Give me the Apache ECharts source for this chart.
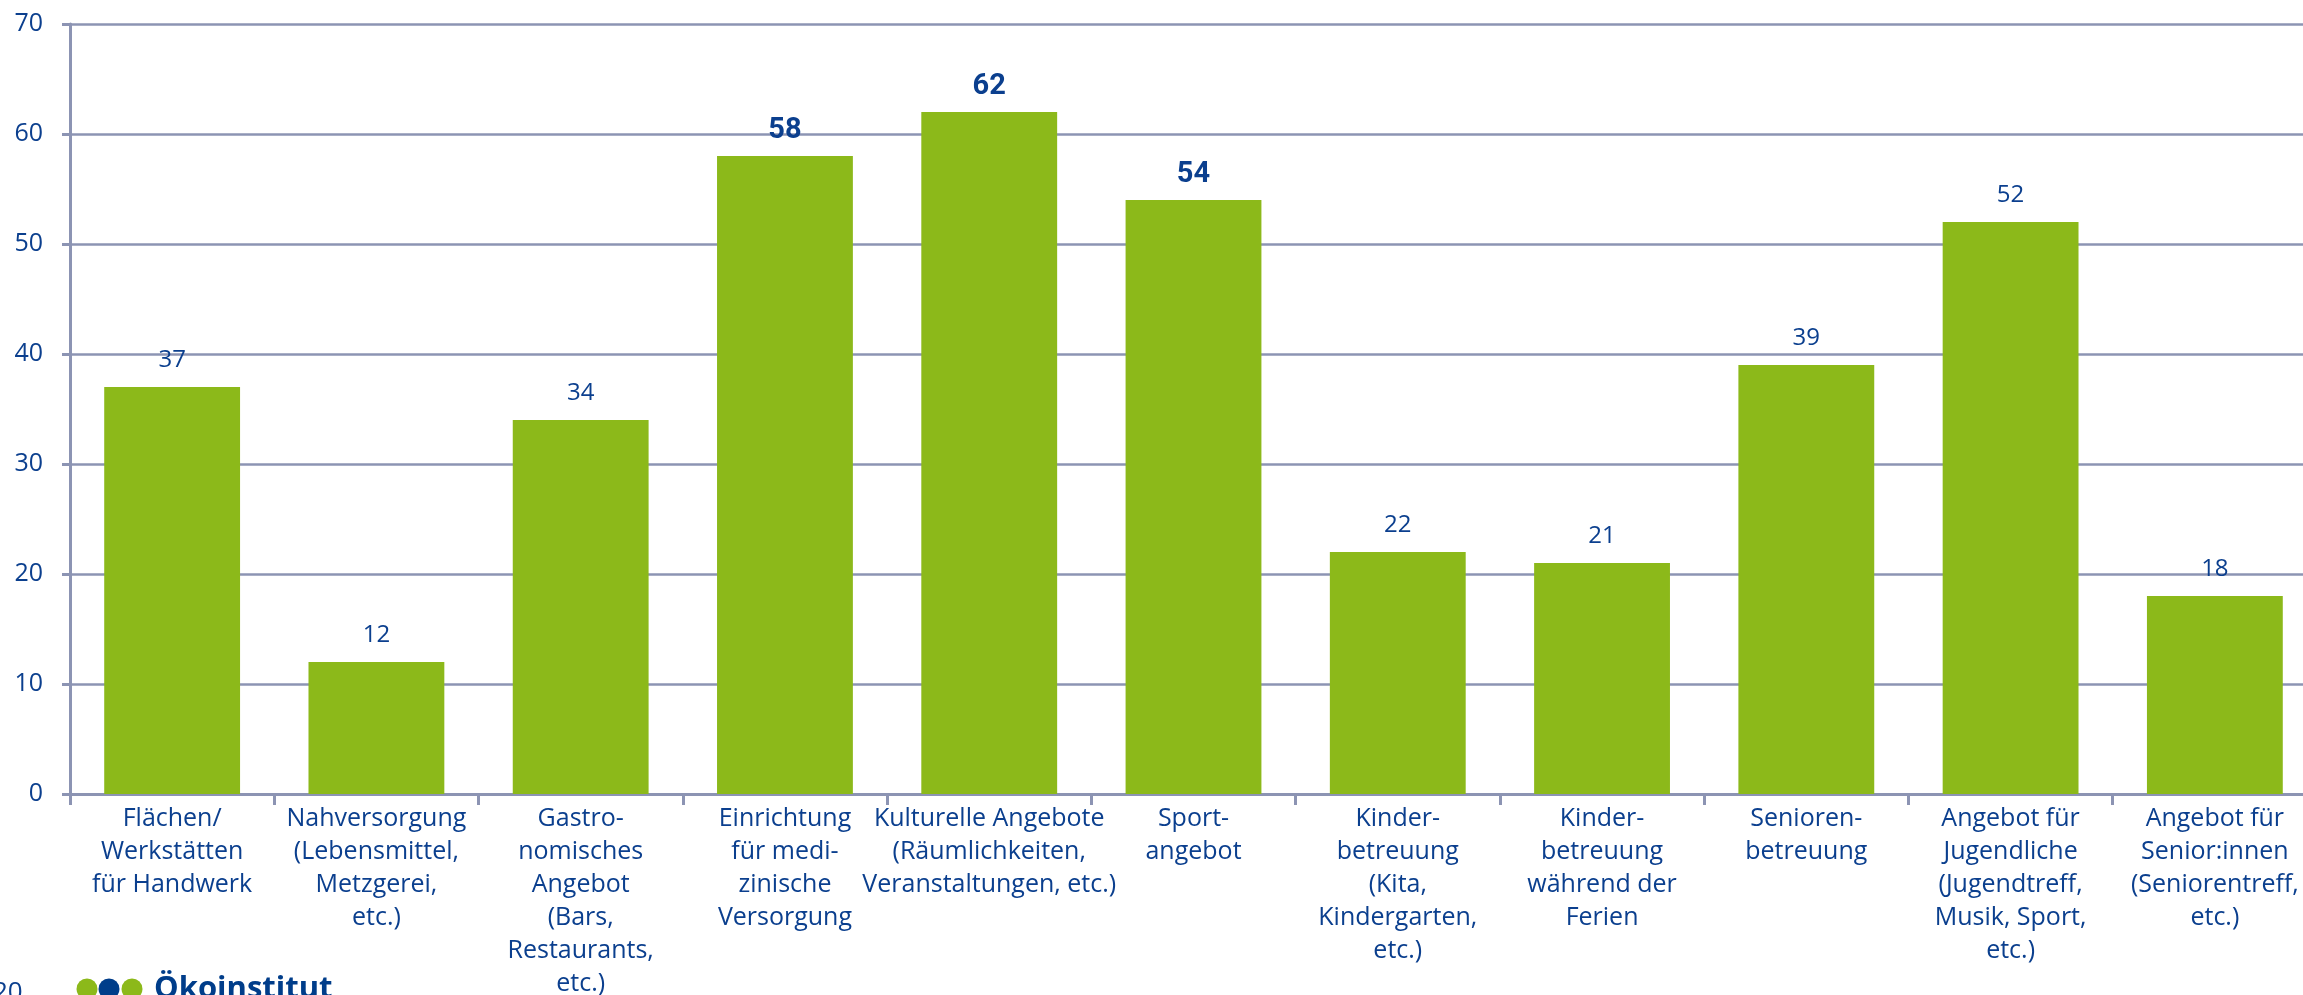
<!DOCTYPE html>
<html>
<head>
<meta charset="utf-8">
<script src="https://cdn.jsdelivr.net/npm/echarts@6/dist/echarts.min.js"></script>
<style>
  html, body { margin: 0; padding: 0; background: #fff; }
  #chart { width: 2303px; height: 995px; }
</style>
</head>
<body>
<div id="chart"></div>
<script>
// Kategorien (Zeilenumbrüche wie im Original)
var categories = [
    'Flächen/\nWerkstätten\nfür Handwerk',
    'Nahversorgung\n(Lebensmittel,\nMetzgerei,\netc.)',
    'Gastro-\nnomisches\nAngebot\n(Bars,\nRestaurants,\netc.)',
    'Einrichtung\nfür medi-\nzinische\nVersorgung',
    'Kulturelle Angebote\n(Räumlichkeiten,\nVeranstaltungen, etc.)',
    'Sport-\nangebot',
    'Kinder-\nbetreuung\n(Kita,\nKindergarten,\netc.)',
    'Kinder-\nbetreuung\nwährend der\nFerien',
    'Senioren-\nbetreuung',
    'Angebot für\nJugendliche\n(Jugendtreff,\nMusik, Sport,\netc.)',
    'Angebot für\nSenior:innen\n(Seniorentreff,\netc.)'
];
// Anzahl Nennungen
var counts = [37, 12, 34, 58, 62, 54, 22, 21, 39, 52, 18];
// fett hervorgehobene Werte (Index)
var highlighted = [3, 4, 5];

var blue = '#0b3f8e';
var green = '#8cb91a';
var axisColor = '#8c94b3';

var chartDom = document.getElementById('chart');
var myChart = echarts.init(chartDom);
var option;

var seriesData = counts.map(function (v, i) {
    if (highlighted.indexOf(i) >= 0) {
        return {
            value: v,
            label: {
                fontWeight: 'bold',
                fontSize: 29,
                fontFamily: "'Liberation Sans Narrow', 'Roboto', sans-serif",
                distance: 11
            }
        };
    }
    return v;
});

option = {
    animation: false,
    grid: {
        left: 70,
        right: -14,
        top: 24,
        bottom: 201,
        outerBoundsMode: 'none'
    },
    xAxis: {
        type: 'category',
        data: categories,
        axisLine: { lineStyle: { color: axisColor, width: 3 } },
        axisTick: { show: true, length: 11, lineStyle: { color: axisColor, width: 3 } },
        axisLabel: {
            interval: 0,
            margin: 8,
            color: blue,
            fontSize: 25,
            lineHeight: 33,
            fontFamily: "'Open Sans', sans-serif"
        }
    },
    yAxis: {
        type: 'value',
        min: 0,
        max: 70,
        interval: 10,
        axisLine: { show: true, lineStyle: { color: axisColor, width: 3 } },
        axisTick: { show: true, length: 8, lineStyle: { color: axisColor, width: 3 } },
        axisLabel: {
            margin: 27,
            color: blue,
            fontSize: 25,
            fontFamily: "'Open Sans', sans-serif"
        },
        splitLine: { lineStyle: { color: axisColor, width: 2.5 } }
    },
    series: [
        {
            type: 'bar',
            data: seriesData,
            barCategoryGap: '33.5%',
            itemStyle: { color: green },
            label: {
                show: true,
                position: 'top',
                distance: 15,
                color: blue,
                fontSize: 24,
                fontFamily: "'Open Sans', sans-serif"
            }
        }
    ],
    graphic: [
        { type: 'text', left: -7, top: 980, style: { text: '20', fill: blue, fontSize: 26, fontFamily: "'Open Sans', sans-serif" } },
        { type: 'circle', shape: { cx: 87, cy: 989, r: 10.5 }, style: { fill: green } },
        { type: 'circle', shape: { cx: 109, cy: 989, r: 10.5 }, style: { fill: '#003d8a' } },
        { type: 'circle', shape: { cx: 132, cy: 989, r: 10.5 }, style: { fill: green } },
        { type: 'text', left: 154, top: 974, style: { text: 'Ökoinstitut', fill: '#003d8a', fontSize: 31, fontWeight: 'bold', fontFamily: "'Open Sans', sans-serif" } }
    ]
};

option && myChart.setOption(option);
</script>
</body>
</html>
